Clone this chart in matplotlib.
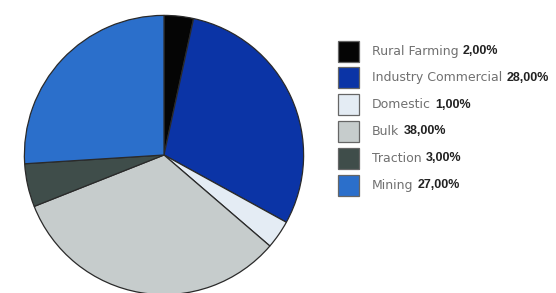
import matplotlib
matplotlib.use("Agg")
import matplotlib.pyplot as plt
from matplotlib.patches import Rectangle

categories = ["Rural Farming", "Industry Commercial", "Domestic", "Bulk", "Traction", "Mining"]
# slice sizes as drawn in the picture (percent of circle)
drawn_shares = [3.4, 29.6, 3.3, 32.7, 5.0, 26.0]
# percentages printed in the legend
legend_pct = ["2,00%", "28,00%", "1,00%", "38,00%", "3,00%", "27,00%"]
colors = ["#050505", "#0b34a6", "#e4ecf4", "#c6cccc", "#3f4d4a", "#2b6fcb"]

W, H = 556, 293
fig = plt.figure(figsize=(W / 100, H / 100), dpi=100)
fig.patch.set_facecolor("white")

cx, cy, r = 164, 155, 141
ax = fig.add_axes([(cx - r) / W, (H - cy - r) / H, 2 * r / W, 2 * r / H])
ax.pie(drawn_shares, colors=colors, startangle=90, counterclock=False,
       wedgeprops=dict(edgecolor="#2a2a2a", linewidth=0.9))
ax.set_xlim(-1.01, 1.01)
ax.set_ylim(-1.01, 1.01)
ax.set_aspect("equal")
ax.axis("off")

lax = fig.add_axes([0, 0, 1, 1])
lax.set_xlim(0, W)
lax.set_ylim(H, 0)
lax.axis("off")

row_y0, row_dy = 51, 26.8
for i, (cat, pct, col) in enumerate(zip(categories, legend_pct, colors)):
    y = row_y0 + i * row_dy
    lax.add_patch(Rectangle((338, y - 10.5), 21, 21, facecolor=col,
                            edgecolor="#666666", linewidth=0.9))
    t = lax.text(372, y, cat, fontsize=9, color="#707070",
                 family="DejaVu Sans", va="center", ha="left")
    lax.annotate(pct, xy=(1, 0.5), xycoords=t, xytext=(3, 0),
                 textcoords="offset points", va="center", ha="left",
                 fontsize=9, fontweight="bold", color="#222222",
                 family="Liberation Sans")

fig.savefig("out.png", dpi=100, facecolor="white")
